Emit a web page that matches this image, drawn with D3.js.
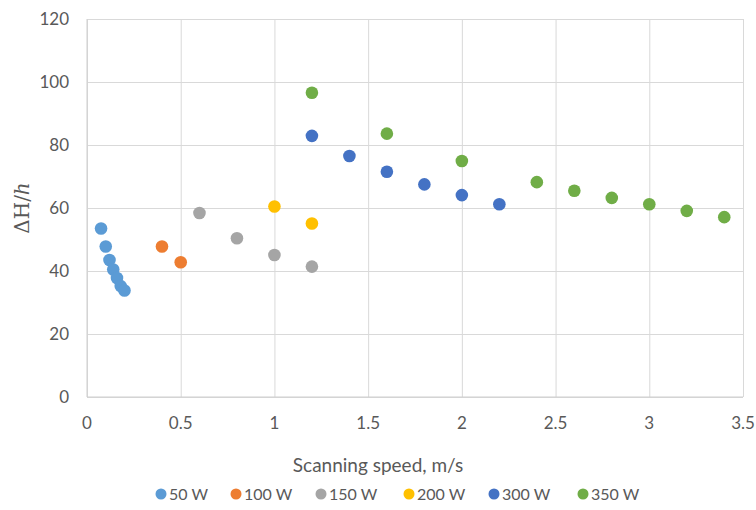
<!DOCTYPE html>
<html>
<head>
<meta charset="utf-8">
<script src="https://cdn.jsdelivr.net/npm/d3@7"></script>
<style>
  html, body { margin: 0; padding: 0; background: #fff; }
  svg text { font-family: Lato, "Open Sans", sans-serif; fill: #595959; }
</style>
</head>
<body>
<svg id="chart" width="756" height="510"></svg>
<script>
// Series: scanning speed (m/s) vs ΔH/h for each laser power
const seriesNames = ["50 W", "100 W", "150 W", "200 W", "300 W", "350 W"];
const seriesColors = ["#5B9BD5", "#ED7D31", "#A5A5A5", "#FFC000", "#4472C4", "#70AD47"];

const speed50 = [0.075, 0.1, 0.12, 0.14, 0.16, 0.18, 0.2];
const value50 = [53.5, 47.8, 43.5, 40.5, 37.8, 35.2, 33.8];

const speed100 = [0.4, 0.5];
const value100 = [47.8, 42.8];

const speed150 = [0.6, 0.8, 1.0, 1.2];
const value150 = [58.4, 50.4, 45.1, 41.4];

const speed200 = [1.0, 1.2];
const value200 = [60.5, 55.1];

const speed300 = [1.2, 1.4, 1.6, 1.8, 2.0, 2.2];
const value300 = [82.9, 76.5, 71.5, 67.5, 64.1, 61.2];

const speed350 = [1.2, 1.6, 2.0, 2.4, 2.6, 2.8, 3.0, 3.2, 3.4];
const value350 = [96.6, 83.6, 74.9, 68.2, 65.5, 63.2, 61.2, 59.1, 57.1];

const xTicks = [0, 0.5, 1, 1.5, 2, 2.5, 3, 3.5];
const yTicks = [0, 20, 40, 60, 80, 100, 120];

const allSpeeds = [speed50, speed100, speed150, speed200, speed300, speed350];
const allValues = [value50, value100, value150, value200, value300, value350];

const svg = d3.select("#chart");
const plot = { left: 87, right: 743, top: 19, bottom: 397 };

const x = d3.scaleLinear().domain([0, 3.5]).range([plot.left, plot.right]);
const y = d3.scaleLinear().domain([0, 120]).range([plot.bottom, plot.top]);

// Gridlines
svg.append("g")
  .attr("transform", `translate(0,${plot.bottom})`)
  .call(d3.axisBottom(x).tickValues(xTicks).tickSize(-(plot.bottom - plot.top)).tickFormat(""))
  .call(g => g.select(".domain").remove())
  .call(g => g.selectAll("line").attr("stroke", "#d9d9d9").attr("stroke-width", 1));

svg.append("g")
  .attr("transform", `translate(${plot.left},0)`)
  .call(d3.axisLeft(y).tickValues(yTicks).tickSize(-(plot.right - plot.left)).tickFormat(""))
  .call(g => g.select(".domain").remove())
  .call(g => g.selectAll("line").attr("stroke", "#d9d9d9").attr("stroke-width", 1));

// Axis baselines
svg.append("line")
  .attr("x1", plot.left).attr("x2", plot.left)
  .attr("y1", plot.top).attr("y2", plot.bottom)
  .attr("stroke", "#cfcfcf");
svg.append("line")
  .attr("x1", plot.left).attr("x2", plot.right)
  .attr("y1", plot.bottom).attr("y2", plot.bottom)
  .attr("stroke", "#cfcfcf");

// Tick labels
svg.append("g").selectAll("text")
  .data(xTicks).join("text")
  .attr("x", d => x(d)).attr("y", 429)
  .attr("text-anchor", "middle")
  .style("font-size", "17px")
  .text(d => d3.format("")(d));

svg.append("g").selectAll("text")
  .data(yTicks).join("text")
  .attr("x", 69).attr("y", d => y(d) + 6)
  .attr("text-anchor", "end")
  .style("font-size", "17px")
  .text(d => d);

// Axis titles
svg.append("text")
  .attr("x", 378).attr("y", 472)
  .attr("text-anchor", "middle")
  .style("font-size", "19px")
  .text("Scanning speed, m/s");

const yTitle = svg.append("text")
  .attr("transform", "translate(29,208) rotate(-90)")
  .attr("text-anchor", "middle")
  .style("font-family", "'DejaVu Serif', 'Liberation Serif', serif")
  .style("font-size", "20px");
yTitle.append("tspan").text("ΔH/");
yTitle.append("tspan").style("font-style", "italic").text("h");

// Markers
allSpeeds.forEach((speeds, i) => {
  svg.append("g").selectAll("circle")
    .data(speeds.map((s, j) => [s, allValues[i][j]]))
    .join("circle")
    .attr("cx", d => x(d[0]))
    .attr("cy", d => y(d[1]))
    .attr("r", 6.3)
    .attr("fill", seriesColors[i]);
});

// Legend
const legendX = [161, 236, 321, 409, 494, 583];
const legend = svg.append("g").selectAll("g")
  .data(seriesNames).join("g")
  .attr("transform", (d, i) => `translate(${legendX[i]},494)`);
legend.append("circle").attr("r", 5.5).attr("fill", (d, i) => seriesColors[i]);
legend.append("text")
  .attr("x", 8).attr("y", 6)
  .style("font-size", "16px")
  .text(d => d);
</script>
</body>
</html>
